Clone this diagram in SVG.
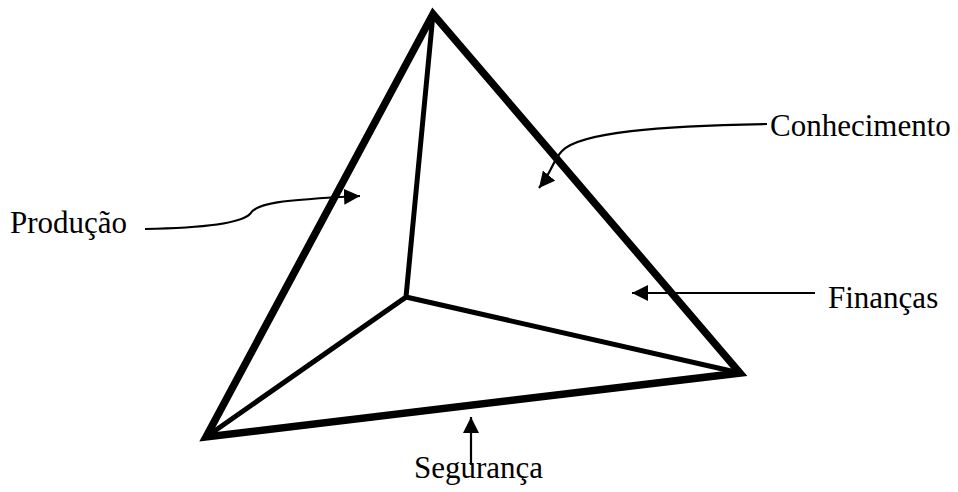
<svg xmlns="http://www.w3.org/2000/svg" width="958" height="492" viewBox="0 0 958 492">
<defs>
<style>
.edge{stroke:#000;fill:none;stroke-linecap:round;stroke-linejoin:miter}
.outer{stroke-width:7.5}
.inner{stroke-width:5}
.conn{stroke:#000;stroke-width:2.2;fill:none}
.lbl{font-family:"Liberation Serif","Times New Roman",serif;font-size:31px;fill:#000}
</style>
<marker id="ah" viewBox="0 0 10 10" refX="10" refY="5" markerWidth="16" markerHeight="16" markerUnits="userSpaceOnUse" orient="auto">
<path d="M0,0 L10,5 L0,10 Z" fill="#000"/>
</marker>
</defs>
<rect width="958" height="492" fill="#fff"/>
<g id="tetrahedron">
<path class="edge inner" d="M433,14 L406,297 L206,437 M406,297 L740,373"/>
<path class="edge outer" d="M206,437 L433,14 L740,373 Z"/>
</g>
<g id="connectors">
<path class="conn" marker-end="url(#ah)" d="M767,124 C660,126 580,132 562,151 C553,160 552,172 539,188"/>
<path class="conn" marker-end="url(#ah)" d="M145,229 C200,228 240,224 250,214 C256,203 280,200 360,196"/>
<path class="conn" marker-end="url(#ah)" d="M815,293 L632,293"/>
<path class="conn" marker-end="url(#ah)" d="M471,465 L471,417"/>
</g>
<g id="conhecimento"><text class="lbl" x="770" y="136">Conhecimento</text></g>
<g id="producao"><text class="lbl" x="10" y="233">Produção</text></g>
<g id="financas"><text class="lbl" x="828" y="308">Finanças</text></g>
<g id="seguranca"><text class="lbl" x="414" y="478">Segurança</text></g>
</svg>
